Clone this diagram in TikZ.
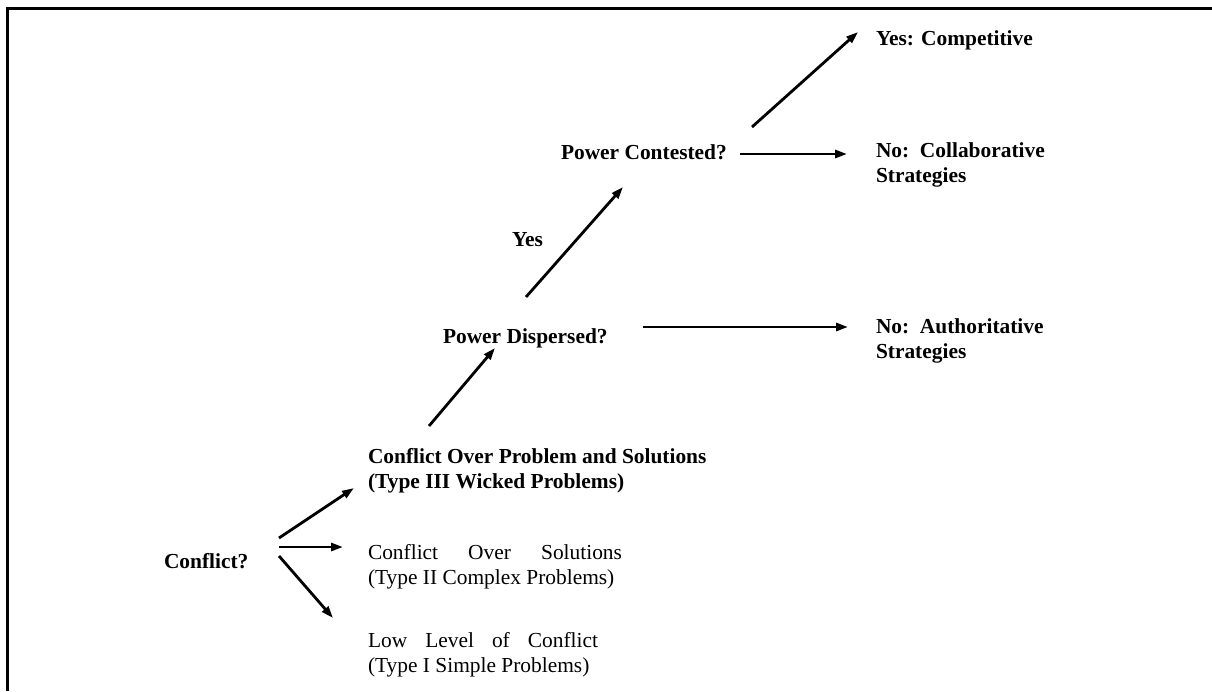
\documentclass[tikz,border=0pt]{standalone}
\usepackage{fontspec}
\setmainfont{Liberation Serif}
\usetikzlibrary{arrows.meta}
\begin{document}
\begin{tikzpicture}[x=1pt,y=-1pt,
  lbl/.style={inner sep=0pt, outer sep=0pt, anchor=base west, align=left,
    font=\fontsize{21.4}{25}\selectfont},
  blbl/.style={lbl, font=\fontsize{21.4}{25}\selectfont\bfseries},
  arr/.style={line width=2.8pt, -{Triangle[length=12pt,width=8pt]}},
  frame/.style={line width=3pt}]
\useasboundingbox (0,0) rectangle (1212,691);
\draw[frame] (1212,8) -- (7,8) -- (7,691);

\node[blbl] (conflict) at (164,568) {Conflict?};
\node[blbl] (t3) at (368,488) {Conflict Over Problem and Solutions\\(Type III Wicked Problems)};
\node[lbl] (t2) at (368,584) {\hbox to 254pt{Conflict\hfill Over\hfill Solutions}\\(Type II Complex Problems)};
\node[lbl] (t1) at (368,672) {\hbox to 230pt{Low\hfill Level\hfill of\hfill Conflict}\\(Type I Simple Problems)};
\node[blbl] (pd) at (443,343) {Power Dispersed?};
\node[blbl] (yes) at (512,246) {Yes};
\node[blbl] (pc) at (561,159) {Power Contested?};
\node[blbl] (auth) at (876,358) {No:\ \ Authoritative\\Strategies};
\node[blbl] (collab) at (876,182) {No:\ \ Collaborative\\Strategies};
\node[blbl] (comp) at (876,45) {Yes: Competitive};

\coordinate (a1s) at (279,538); \coordinate (a1e) at (354,488);
\coordinate (a2s) at (279,547); \coordinate (a2e) at (343,547);
\coordinate (a3s) at (279,556); \coordinate (a3e) at (333,618);
\coordinate (a4s) at (429,426); \coordinate (a4e) at (495,348);
\coordinate (a5s) at (526,297); \coordinate (a5e) at (623,187);
\coordinate (a6s) at (643,327); \coordinate (a6e) at (848,327);
\coordinate (a7s) at (740,154); \coordinate (a7e) at (847,154);
\coordinate (a8s) at (752,127); \coordinate (a8e) at (858,32);

\draw[arr] (a1s) -- (a1e);
\draw[arr] (a2s) -- (a2e);
\draw[arr] (a3s) -- (a3e);
\draw[arr] (a4s) -- (a4e);
\draw[arr] (a5s) -- (a5e);
\draw[arr] (a6s) -- (a6e);
\draw[arr] (a7s) -- (a7e);
\draw[arr] (a8s) -- (a8e);
\end{tikzpicture}
\end{document}
